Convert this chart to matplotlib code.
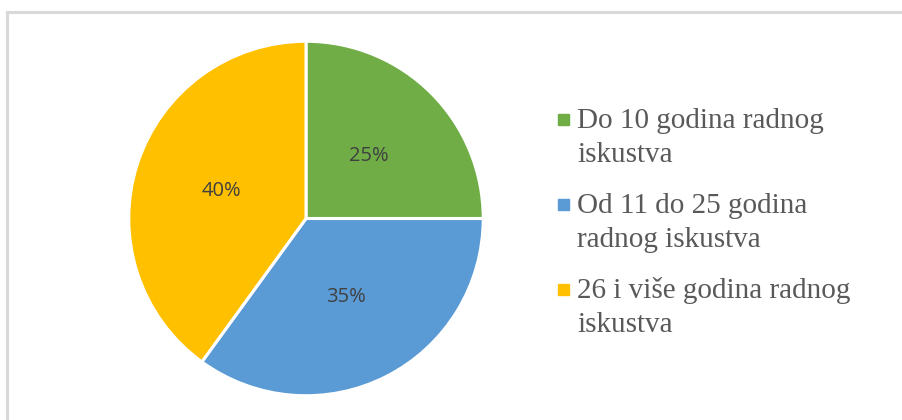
import matplotlib
matplotlib.use("Agg")
import matplotlib.pyplot as plt
from matplotlib.patches import Rectangle
from matplotlib.lines import Line2D

categories = ["Do 10 godina radnog\niskustva",
              "Od 11 do 25 godina\nradnog iskustva",
              "26 i više godina radnog\niskustva"]
values = [25, 35, 40]
colors = ["#70AD47", "#5B9BD5", "#FFC000"]

W, H = 902, 420
fig = plt.figure(figsize=(W / 100, H / 100), dpi=100)
fig.patch.set_facecolor("white")

# chart-area border (only top and left visible)
fig.add_artist(Line2D([7 / W, 1], [1 - 11.5 / H, 1 - 11.5 / H], color="#D9D9D9", lw=2.2,
                      transform=fig.transFigure))
fig.add_artist(Line2D([7 / W, 7 / W], [0, 1 - 11.5 / H], color="#D9D9D9", lw=2.2,
                      transform=fig.transFigure))

cx, cy, r = 306, 218.5, 179
ax = fig.add_axes([(cx - r) / W, (H - cy - r) / H, 2 * r / W, 2 * r / H])
wedges, texts, autotexts = ax.pie(values, colors=colors, startangle=90, counterclock=False,
                                  radius=1, autopct=lambda p: f"{p:.0f}%", pctdistance=0.5,
                                  wedgeprops=dict(edgecolor="white", linewidth=2.2),
                                  textprops=dict(fontsize=14.5, color="#404040",
                                                 family="Open Sans"))
ax.set_xlim(-1.01, 1.01)
ax.set_ylim(-1.01, 1.01)
ax.set_aspect("equal")
ax.axis("off")

# legend
base_y = [128, 213, 298]
for lab, col, by in zip(categories, colors, base_y):
    fig.add_artist(Rectangle((558 / W, 1 - (by - 3) / H), 11 / W, 11 / H, color=col,
                             transform=fig.transFigure))
    lines = lab.split("\n")
    for i, ln in enumerate(lines):
        fig.text(577 / W, 1 - (by + 34 * i) / H, ln, fontsize=21, color="#595959",
                 family="Liberation Serif", va="baseline", ha="left")

fig.savefig("out.png", dpi=100)
